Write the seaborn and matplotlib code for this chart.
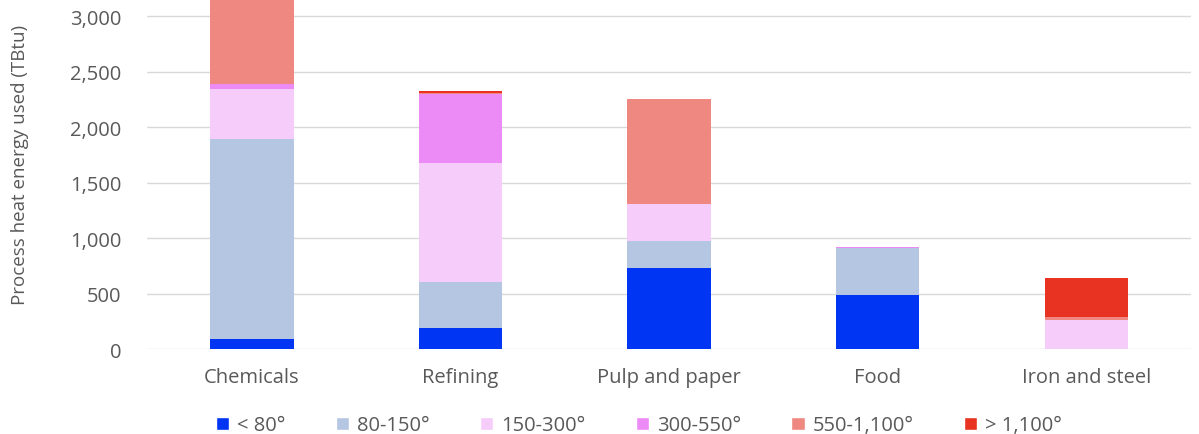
import seaborn as sns
import matplotlib.pyplot as plt
import pandas as pd
from matplotlib.patches import Patch

# data (TBtu)
industries = ["Chemicals", "Refining", "Pulp and paper", "Food", "Iron and steel"]
temp_bands = ["< 80°", "80-150°", "150-300°", "300-550°", "550-1,100°", "> 1,100°"]
below_80 = [90, 190, 730, 490, 0]
band_80_150 = [1800, 415, 245, 420, 0]
band_150_300 = [450, 1070, 330, 5, 260]
band_300_550 = [50, 625, 0, 10, 0]
band_550_1100 = [760, 5, 945, 0, 28]
above_1100 = [0, 25, 0, 0, 352]

colors = ["#0035f3", "#b5c6e3", "#f6cdfa", "#ec8bf6", "#ee8880", "#e83322"]

series = [below_80, band_80_150, band_150_300, band_300_550, band_550_1100, above_1100]
rows = []
for band, vals in zip(temp_bands, series):
    for ind, v in zip(industries, vals):
        rows.append({"industry": ind, "band": band, "energy": v})
df = pd.DataFrame(rows)

sns.set_style("white")
plt.rcParams["font.family"] = ["Open Sans", "DejaVu Sans"]

fig = plt.figure(figsize=(11.99, 4.35), dpi=100)
ax = fig.add_axes([0.123, 0.195, 0.870, 0.805])

# histplot stacks the first hue level on top, so feed the order reversed
sns.histplot(data=df, x="industry", weights="energy", hue="band",
             hue_order=temp_bands[::-1], palette=dict(zip(temp_bands, colors)),
             multiple="stack", discrete=True, shrink=0.4, linewidth=0,
             alpha=1, legend=False, ax=ax)

ax.set_xlim(-0.5, 4.5)
ax.set_ylim(0, 3155)
ax.set_yticks(range(0, 3001, 500))
ax.set_yticklabels([f"{v:,}" for v in range(0, 3001, 500)])
ax.yaxis.grid(True, color="#d9d9d9", linewidth=1)
ax.set_axisbelow(True)
for s in ax.spines.values():
    s.set_visible(False)
ax.tick_params(axis="both", length=0, labelsize=14.5, colors="#595959")
ax.tick_params(axis="y", pad=19)
ax.tick_params(axis="x", pad=13)
ax.set_xlabel("")
ax.set_ylabel("Process heat energy used (TBtu)", fontsize=13.5, color="#595959")
ax.yaxis.set_label_coords(-0.114, 0.53)

handles = [Patch(facecolor=c, label=b) for b, c in zip(temp_bands, colors)]
fig.legend(handles=handles, loc="lower center", bbox_to_anchor=(0.533, -0.045), ncol=6,
           frameon=False, fontsize=14.5, handlelength=0.65, handleheight=0.65,
           handletextpad=0.4, columnspacing=2.5, labelcolor="#595959")

plt.savefig("out.png", dpi=100)
